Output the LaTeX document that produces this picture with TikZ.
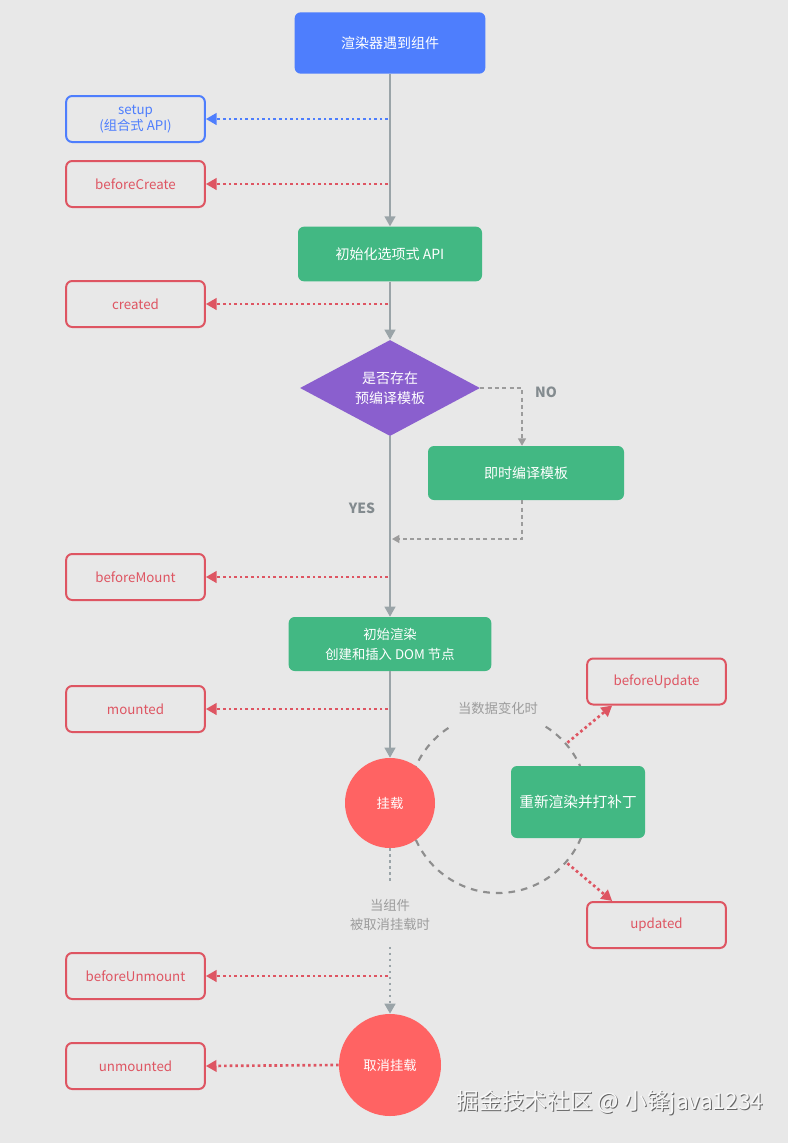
\documentclass[tikz,border=0pt]{standalone}
\usepackage{fontspec}
\setmainfont{Noto Sans CJK SC}
\usetikzlibrary{arrows.meta,shapes.geometric,calc,positioning}

\definecolor{page bg}{HTML}{E8E8E8}
\definecolor{vue blue}{HTML}{4E7EFD}
\definecolor{vue green}{HTML}{42B883}
\definecolor{vue purple}{HTML}{8A5FCE}
\definecolor{vue red}{HTML}{FF6363}
\definecolor{hook red}{HTML}{DE5562}
\definecolor{flow gray}{HTML}{9AA4A8}
\definecolor{note gray}{HTML}{9C9C9C}
\definecolor{loop gray}{HTML}{8E8E8E}

\tikzset{
  hook/.style={draw=hook red, line width=1.5pt, rounded corners=4.5pt,
    minimum width=104pt, minimum height=34.5pt, text=hook red,
    font=\fontsize{10}{12.5}\selectfont, align=center},
  stage/.style={fill=vue green, rounded corners=4.5pt, text=white,
    font=\fontsize{10.5}{14}\selectfont, align=center, inner sep=0pt},
  state/.style={circle, fill=vue red, text=white, inner sep=0pt,
    font=\fontsize{10}{12}\selectfont},
  flow/.style={draw=flow gray, line width=1.5pt,
    -{Triangle[width=8pt,length=7.5pt]}},
  hookarrow/.style={draw=hook red, line width=2pt,
    dash pattern=on 2pt off 2.2pt, -{Triangle[width=8.5pt,length=8pt]}},
  branch/.style={draw=note gray, line width=1pt, dash pattern=on 3pt off 2.5pt,
    -{Triangle[width=6pt,length=5.5pt]}},
  unmountline/.style={draw=flow gray, line width=1.7pt,
    dash pattern=on 1.7pt off 2.8pt},
  note/.style={text=note gray, font=\fontsize{10}{14}\selectfont, align=center},
  verdict/.style={text=flow gray!85!black, font=\fontsize{10.5}{12}\selectfont\bfseries}
}

\begin{document}
\begin{tikzpicture}[x=0.75pt, y=0.75pt]

  \fill[page bg] (0,0) rectangle (788,-1143);
  \useasboundingbox (0,0) rectangle (788,-1143);

  % update loop, drawn first so the nodes cover it
  \coordinate (loopc) at (498,-803);
  \draw[loop gray, line width=1.6pt, dash pattern=on 5pt off 4.5pt]
    ($(loopc)+(58:90)$) arc[start angle=58, end angle=-238, radius=90];

  % main flow
  \node[fill=vue blue, rounded corners=4.5pt, text=white, minimum width=143pt,
    minimum height=46pt, font=\fontsize{10.5}{12}\selectfont] (renderer) at (390,-43) {渲染器遇到组件};
  \node[stage, minimum width=138pt, minimum height=41pt] (initapi) at (390,-254) {初始化选项式 API};
  \node[diamond, fill=vue purple, aspect=1.875, minimum width=135pt, minimum height=72pt,
    inner sep=0pt, text=white, align=center, font=\fontsize{10.5}{15}\selectfont] (template) at (390,-388) {是否存在\\预编译模板};
  \node[stage, minimum width=147pt, minimum height=40.5pt] (compile) at (526,-473) {即时编译模板};
  \node[stage, minimum width=152pt, minimum height=40.5pt, font=\fontsize{10}{15}\selectfont] (initrender) at (390,-644) {初始渲染\\创建和插入 DOM 节点};
  \node[state, minimum size=67.5pt] (mountc) at (390,-803) {挂载};
  \node[stage, minimum width=100.5pt, minimum height=54pt, font=\fontsize{11}{13}\selectfont] (patch) at (578,-802) {重新渲染并打补丁};
  \node[state, minimum size=76.5pt] (unmountc) at (390,-1065) {取消挂载};

  \draw[flow] (renderer) -- (initapi);
  \draw[flow] (initapi) -- (template);
  \draw[flow] (template) -- (initrender);
  \draw[flow] (initrender) -- (mountc);

  % compile branch
  \coordinate (yesjoin) at (392,-539);
  \draw[branch] (template.east) -| ([xshift=-3pt]compile.north);
  \draw[branch] ([xshift=-3pt]compile.south) |- (yesjoin);
  \node[verdict] (no) at (546,-392) {NO};
  \node[verdict] (yes) at (362,-508) {YES};

  % hooks on the left
  \node[draw=vue blue, line width=1.5pt, rounded corners=4.5pt, minimum width=104pt,
    minimum height=34.5pt, text=vue blue, align=center,
    font=\fontsize{10}{12.5}\selectfont] (setup) at (135.5,-119) {setup\\(组合式 API)};
  \coordinate (setup-src) at (388,-119);
  \draw[hookarrow, draw=vue blue] (setup-src) -- (setup.east);

  \foreach \name/\y in {beforeCreate/184, created/304, beforeMount/577, mounted/709, beforeUnmount/976} {
    \node[hook] (\name) at (135.5,-\y) {\name};
    \coordinate (\name-src) at (388,-\y);
    \draw[hookarrow] (\name-src) -- (\name.east);
  }

  % unmount path
  \node[note, inner ysep=12pt] (unmountnote) at (390,-915) {当组件\\被取消挂载时};
  \draw[unmountline] (mountc.south) -- (unmountnote.north);
  \draw[unmountline, -{Triangle[width=8pt,length=7.5pt]}] (unmountnote.south) -- (unmountc.north);

  \node[hook] (unmounted) at (135.5,-1066) {unmounted};
  \draw[hookarrow] (unmountc.west) -- (unmounted.east);

  % update hooks
  \node[note] (datanote) at (498,-708) {当数据变化时};
  \node[hook] (beforeUpdate) at (656.5,-681.5) {beforeUpdate};
  \node[hook] (updated) at (656.5,-925) {updated};
  \coordinate (beforeUpdate-src) at ($(loopc)+(41:92)$);
  \coordinate (updated-src) at ($(loopc)+(-41:92)$);
  \draw[hookarrow] (beforeUpdate-src) -- ([xshift=19.5pt]beforeUpdate.south west);
  \draw[hookarrow] (updated-src) -- ([xshift=19.5pt]updated.north west);

  % watermark
  \node[text=black!60, font=\fontsize{17}{20}\selectfont] (markshadow) at (611,-1104) {掘金技术社区 @ 小锋java1234};
  \node[text=white!94!gray, font=\fontsize{17}{20}\selectfont] (mark) at (610,-1103) {掘金技术社区 @ 小锋java1234};

\end{tikzpicture}
\end{document}
